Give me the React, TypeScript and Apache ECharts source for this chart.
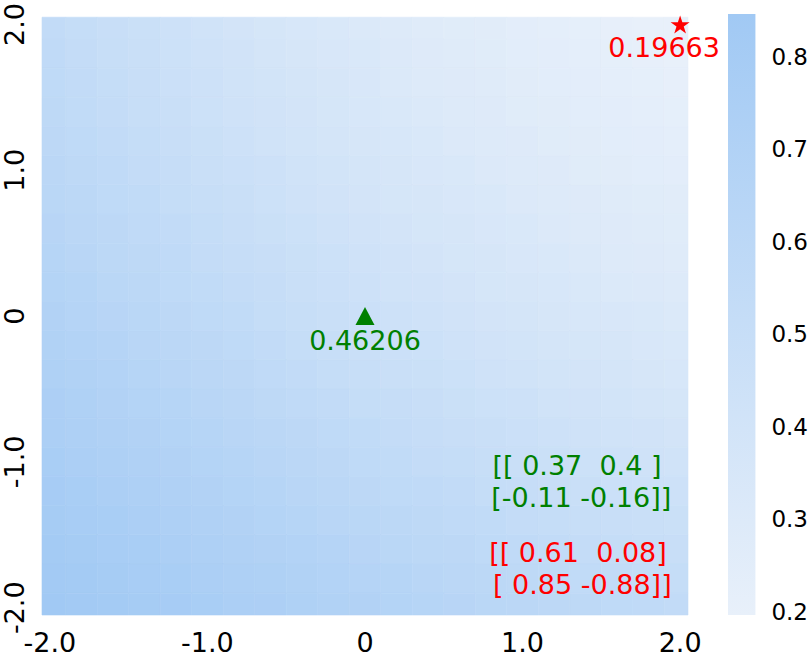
import React, { useEffect, useRef } from 'react';
import * as echarts from 'echarts';

// cell centres (step 0.2) of the value field, columns left->right, rows top->bottom
const xCenters = [-2.0, -1.8, -1.6, -1.4, -1.2, -1.0, -0.8, -0.6, -0.4, -0.2, 0.0, 0.2, 0.4, 0.6, 0.8, 1.0, 1.2, 1.4, 1.6, 1.8, 2.0];
const yCenters = [2.0, 1.8, 1.6, 1.4, 1.2, 1.0, 0.8, 0.6, 0.4, 0.2, 0.0, -0.2, -0.4, -0.6, -0.8, -1.0, -1.2, -1.4, -1.6, -1.8, -2.0];

const values: number[][] = [
  [0.54, 0.52, 0.49, 0.47, 0.44, 0.42, 0.39, 0.37, 0.35, 0.33, 0.32, 0.30, 0.28, 0.27, 0.26, 0.24, 0.23, 0.22, 0.21, 0.20, 0.197],
  [0.56, 0.53, 0.50, 0.48, 0.45, 0.43, 0.41, 0.38, 0.36, 0.34, 0.33, 0.31, 0.29, 0.28, 0.27, 0.25, 0.24, 0.23, 0.22, 0.21, 0.20],
  [0.57, 0.54, 0.52, 0.49, 0.46, 0.44, 0.42, 0.40, 0.38, 0.36, 0.34, 0.32, 0.30, 0.29, 0.28, 0.26, 0.25, 0.24, 0.23, 0.22, 0.21],
  [0.58, 0.55, 0.53, 0.50, 0.48, 0.45, 0.43, 0.41, 0.39, 0.37, 0.35, 0.33, 0.32, 0.30, 0.29, 0.27, 0.26, 0.25, 0.24, 0.23, 0.22],
  [0.59, 0.57, 0.54, 0.52, 0.49, 0.47, 0.44, 0.42, 0.40, 0.38, 0.36, 0.35, 0.33, 0.31, 0.30, 0.29, 0.27, 0.26, 0.25, 0.24, 0.23],
  [0.61, 0.58, 0.56, 0.53, 0.51, 0.48, 0.46, 0.44, 0.42, 0.40, 0.38, 0.36, 0.34, 0.33, 0.31, 0.30, 0.29, 0.27, 0.26, 0.25, 0.24],
  [0.62, 0.60, 0.57, 0.55, 0.52, 0.50, 0.48, 0.45, 0.43, 0.41, 0.39, 0.37, 0.36, 0.34, 0.33, 0.31, 0.30, 0.29, 0.28, 0.27, 0.26],
  [0.64, 0.61, 0.59, 0.56, 0.54, 0.52, 0.49, 0.47, 0.45, 0.43, 0.41, 0.39, 0.37, 0.36, 0.34, 0.33, 0.31, 0.30, 0.29, 0.28, 0.27],
  [0.65, 0.63, 0.60, 0.58, 0.56, 0.53, 0.51, 0.49, 0.47, 0.45, 0.43, 0.41, 0.39, 0.37, 0.36, 0.34, 0.33, 0.32, 0.30, 0.29, 0.28],
  [0.67, 0.65, 0.62, 0.60, 0.57, 0.55, 0.53, 0.51, 0.48, 0.46, 0.44, 0.42, 0.41, 0.39, 0.37, 0.36, 0.35, 0.33, 0.32, 0.31, 0.30],
  [0.69, 0.66, 0.64, 0.62, 0.59, 0.57, 0.55, 0.52, 0.50, 0.48, 0.462, 0.44, 0.43, 0.41, 0.39, 0.38, 0.36, 0.35, 0.34, 0.33, 0.32],
  [0.70, 0.68, 0.66, 0.63, 0.61, 0.59, 0.57, 0.54, 0.52, 0.50, 0.48, 0.46, 0.45, 0.43, 0.41, 0.40, 0.38, 0.37, 0.36, 0.34, 0.33],
  [0.72, 0.70, 0.68, 0.65, 0.63, 0.61, 0.59, 0.56, 0.54, 0.52, 0.50, 0.48, 0.47, 0.45, 0.43, 0.42, 0.40, 0.39, 0.38, 0.36, 0.35],
  [0.74, 0.72, 0.69, 0.67, 0.65, 0.63, 0.61, 0.58, 0.56, 0.54, 0.52, 0.51, 0.49, 0.47, 0.45, 0.44, 0.42, 0.41, 0.40, 0.38, 0.37],
  [0.75, 0.73, 0.71, 0.69, 0.67, 0.65, 0.63, 0.61, 0.59, 0.57, 0.55, 0.53, 0.51, 0.49, 0.48, 0.46, 0.44, 0.43, 0.42, 0.41, 0.39],
  [0.77, 0.75, 0.73, 0.71, 0.69, 0.67, 0.65, 0.63, 0.61, 0.59, 0.57, 0.55, 0.53, 0.52, 0.50, 0.48, 0.47, 0.45, 0.44, 0.43, 0.42],
  [0.79, 0.77, 0.75, 0.73, 0.71, 0.69, 0.67, 0.65, 0.63, 0.61, 0.59, 0.57, 0.56, 0.54, 0.52, 0.51, 0.49, 0.48, 0.46, 0.45, 0.44],
  [0.80, 0.78, 0.77, 0.75, 0.73, 0.71, 0.69, 0.67, 0.65, 0.63, 0.62, 0.60, 0.58, 0.56, 0.55, 0.53, 0.52, 0.50, 0.49, 0.48, 0.47],
  [0.82, 0.80, 0.78, 0.77, 0.75, 0.73, 0.71, 0.69, 0.68, 0.66, 0.64, 0.62, 0.60, 0.59, 0.57, 0.56, 0.54, 0.53, 0.52, 0.50, 0.49],
  [0.83, 0.82, 0.80, 0.78, 0.77, 0.75, 0.73, 0.72, 0.70, 0.68, 0.66, 0.65, 0.63, 0.61, 0.60, 0.58, 0.57, 0.55, 0.54, 0.53, 0.52],
  [0.846, 0.83, 0.82, 0.80, 0.79, 0.77, 0.75, 0.74, 0.72, 0.70, 0.69, 0.67, 0.65, 0.64, 0.62, 0.61, 0.59, 0.58, 0.57, 0.56, 0.54],
];

const xTickValues = [-2, -1, 0, 1, 2];
const xTickLabels = ['-2.0', '-1.0', '0', '1.0', '2.0'];
const yTickValues = [-2, -1, 0, 1, 2];
const yTickLabels = ['-2.0', '-1.0', '0', '1.0', '2.0'];
const colorbarTickValues = [0.2, 0.3, 0.4, 0.5, 0.6, 0.7, 0.8];
const colorbarTickLabels = ['0.2', '0.3', '0.4', '0.5', '0.6', '0.7', '0.8'];
const valueMin = 0.19663;
const valueMax = 0.8465;

const starPoint = [2, 2, 0.19663];
const trianglePoint = [0, 0, 0.46206];
const greenMatrix = ['[[ 0.37  0.4 ]', ' [-0.11 -0.16]]'];
const redMatrix = ['[[ 0.61  0.08]', ' [ 0.85 -0.88]]'];

const LIGHT = '#e8f0fa';
const DARK = '#a1c9f4';
const FONT = 'DejaVu Sans';
const STAR = 'path://M0,-1L0.2245,-0.309L0.951,-0.309L0.363,0.118L0.588,0.809L0,0.382L-0.588,0.809L-0.363,0.118L-0.951,-0.309L-0.2245,-0.309Z';

export default function App() {
  const ref = useRef<HTMLDivElement>(null);
  useEffect(() => {
    if (!ref.current) return;
    const chart = echarts.init(ref.current, undefined, { renderer: 'svg' });
    const cellData: number[][] = [];
    values.forEach((row, r) => row.forEach((v, c) => cellData.push([xCenters[c], yCenters[r], v])));
    const halfX = Math.abs(xCenters[1] - xCenters[0]) / 2;
    const halfY = Math.abs(yCenters[1] - yCenters[0]) / 2;
    const fmt = (vals: number[], labels: string[]) => (v: number) => {
      const i = vals.findIndex((t) => Math.abs(t - v) < 1e-9);
      return i >= 0 ? labels[i] : '';
    };
    const option: any = {
      animation: false,
      backgroundColor: '#ffffff',
      textStyle: { fontFamily: FONT },
      grid: [
        { left: 42, top: 14, width: 646, height: 601 },
        { left: 728, top: 14, width: 31, height: 601 },
      ],
      xAxis: [
        {
          type: 'value', gridIndex: 0, min: -2.05, max: 2.05,
          axisLine: { show: false }, splitLine: { show: false },
          axisTick: { show: true, length: 8, customValues: xTickValues, lineStyle: { color: '#000', width: 1.2 } },
          axisLabel: { customValues: xTickValues, formatter: fmt(xTickValues, xTickLabels), fontSize: 27, color: '#000', margin: 14, fontFamily: FONT },
        },
        { type: 'value', gridIndex: 1, min: 0, max: 1, show: false },
      ],
      yAxis: [
        {
          type: 'value', gridIndex: 0, min: -2.05, max: 2.05,
          axisLine: { show: false }, splitLine: { show: false },
          axisTick: { show: true, length: 8, customValues: yTickValues, lineStyle: { color: '#000', width: 1.2 } },
          axisLabel: { customValues: yTickValues, formatter: fmt(yTickValues, yTickLabels), rotate: 90, fontSize: 27, color: '#000', margin: 14, fontFamily: FONT },
        },
        {
          type: 'value', gridIndex: 1, min: valueMin, max: valueMax, position: 'right',
          axisLine: { show: false }, splitLine: { show: false },
          axisTick: { show: true, length: 8, customValues: colorbarTickValues, lineStyle: { color: '#000', width: 1.2 } },
          axisLabel: { customValues: colorbarTickValues, formatter: fmt(colorbarTickValues, colorbarTickLabels), fontSize: 23, color: '#000', margin: 16, fontFamily: FONT },
        },
      ],
      visualMap: {
        show: false, type: 'continuous', min: valueMin, max: valueMax, dimension: 2, seriesIndex: 0,
        inRange: { color: [LIGHT, DARK] },
      },
      series: [
        {
          type: 'custom', xAxisIndex: 0, yAxisIndex: 0, data: cellData, z: 1,
          encode: { x: 0, y: 1 },
          renderItem: (params: any, api: any) => {
            const x = api.value(0);
            const y = api.value(1);
            const p0 = api.coord([x - halfX, y + halfY]);
            const p1 = api.coord([x + halfX, y - halfY]);
            const cs = params.coordSys;
            const rect = echarts.graphic.clipRectByRect(
              { x: p0[0], y: p0[1], width: p1[0] - p0[0], height: p1[1] - p0[1] },
              { x: cs.x, y: cs.y, width: cs.width, height: cs.height }
            );
            if (!rect) return null;
            const color = api.visual('color');
            return { type: 'rect', shape: rect, style: { fill: color, stroke: color, lineWidth: 0.6 } };
          },
        },
        {
          type: 'custom', xAxisIndex: 1, yAxisIndex: 1, data: [[0, valueMin, 1, valueMax]], z: 1,
          renderItem: (params: any, api: any) => {
            const p0 = api.coord([api.value(0), api.value(3)]);
            const p1 = api.coord([api.value(2), api.value(1)]);
            return {
              type: 'rect',
              shape: { x: p0[0], y: p0[1], width: p1[0] - p0[0], height: p1[1] - p0[1] },
              style: {
                fill: new echarts.graphic.LinearGradient(0, 0, 0, 1, [
                  { offset: 0, color: DARK },
                  { offset: 1, color: LIGHT },
                ]),
              },
            };
          },
        },
        {
          type: 'scatter', xAxisIndex: 0, yAxisIndex: 0, clip: false, z: 5,
          symbol: STAR, symbolSize: [19, 18],
          itemStyle: { color: '#ff0000', opacity: 1 },
          data: [starPoint],
          label: {
            show: true, position: 'inside', offset: [-16, 23], color: '#ff0000', fontSize: 27, fontFamily: FONT, opacity: 1,
            formatter: (p: any) => String(p.value[2]),
          },
        },
        {
          type: 'scatter', xAxisIndex: 0, yAxisIndex: 0, clip: false, z: 5,
          symbol: 'triangle', symbolSize: [19, 18],
          itemStyle: { color: '#008000', opacity: 1 },
          data: [trianglePoint],
          label: {
            show: true, position: 'inside', offset: [0, 24], color: '#008000', fontSize: 27, fontFamily: FONT, opacity: 1,
            formatter: (p: any) => String(p.value[2]),
          },
        },
      ],
      graphic: [
        {
          type: 'text', x: 577, y: 481, z: 100,
          style: { text: greenMatrix.join('\n'), fill: '#008000', fontSize: 27, fontFamily: FONT, align: 'center', verticalAlign: 'middle', lineHeight: 32 },
        },
        {
          type: 'text', x: 578, y: 568, z: 100,
          style: { text: redMatrix.join('\n'), fill: '#ff0000', fontSize: 27, fontFamily: FONT, align: 'center', verticalAlign: 'middle', lineHeight: 32 },
        },
      ],
    };
    chart.setOption(option);
    return () => chart.dispose();
  }, []);
  return <div ref={ref} style={{ position: 'fixed', left: 0, top: 0, width: 811, height: 658 }} />;
}
